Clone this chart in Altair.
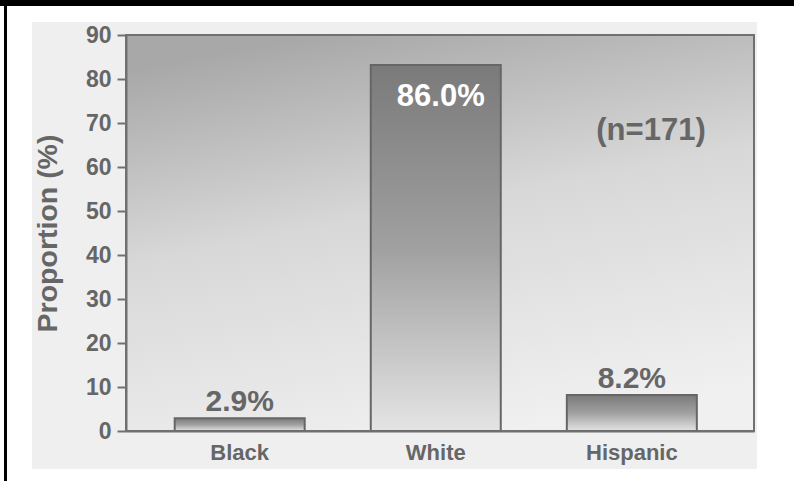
import altair as alt
import pandas as pd

categories = ["Black", "White", "Hispanic"]
bar_heights = [2.9, 83.2, 8.2]
bar_labels = ["2.9%", "86.0%", "8.2%"]
y_ticks = [0, 10, 20, 30, 40, 50, 60, 70, 80, 90]
annotation = "(n=171)"

df = pd.DataFrame({"group": categories, "value": bar_heights, "label": bar_labels})

FONT = "Liberation Sans"
GRAY = "#666666"
W, H = 628, 396

one = alt.Data(values=[{}])

top_band = alt.Chart(one).mark_rect(color="black").encode(
    x=alt.value(-126), x2=alt.value(668), y=alt.value(-35), y2=alt.value(-29))
left_line = alt.Chart(one).mark_rect(color="black").encode(
    x=alt.value(-122), x2=alt.value(-119), y=alt.value(-35), y2=alt.value(446))
panel = alt.Chart(one).mark_rect(color="#efefef").encode(
    x=alt.value(-94), x2=alt.value(631), y=alt.value(-13), y2=alt.value(434))

bg_grad = alt.LinearGradient(
    gradient="linear", x1=0.3, x2=0.6, y1=0, y2=1,
    stops=[alt.GradientStop(offset=0, color="#a8a8a8"),
           alt.GradientStop(offset=0.45, color="#d8d8d8"),
           alt.GradientStop(offset=1, color="#f0f0f0")])
plot_bg = alt.Chart(one).mark_rect(fill=bg_grad, stroke="#707070", strokeWidth=2).encode(
    x=alt.value(0), x2=alt.value(W), y=alt.value(0), y2=alt.value(H))

bar_grad = alt.LinearGradient(
    gradient="linear", x1=0, x2=0, y1=0, y2=1,
    stops=[alt.GradientStop(offset=0, color="#7a7a7a"),
           alt.GradientStop(offset=0.5, color="#a0a0a0"),
           alt.GradientStop(offset=1, color="#e4e4e4")])

x_scale = alt.Scale(paddingInner=0.337, paddingOuter=0.27, align=0.46)
x_axis = alt.Axis(title=None, labelAngle=0, ticks=False, tickSize=0,
                  labelPadding=11, domainColor="#707070", domainWidth=2, zindex=1,
                  labelFontSize=22)
y_scale = alt.Scale(domain=[0, 90], nice=False)
y_axis = alt.Axis(title="Proportion (%)", values=y_ticks, grid=False,
                  tickSize=9, tickWidth=2, tickColor="#707070", labelPadding=6,
                  domainColor="#707070", domainWidth=2,
                  titleX=-79, titleY=198, titleAngle=270, titleAlign="center",
                  titleBaseline="middle", zindex=1, labelFontSize=23)

x_enc = alt.X("group:N", sort=categories, scale=x_scale, axis=x_axis)
y_enc = alt.Y("value:Q", scale=y_scale, axis=y_axis)

bars = alt.Chart(df).mark_bar(fill=bar_grad, stroke="#666666", strokeWidth=2).encode(
    x=x_enc, y=y_enc)

outside = alt.Chart(df).transform_filter("datum.value < 50").mark_text(
    font=FONT, fontSize=30, fontWeight="bold", color=GRAY, baseline="alphabetic", dy=-7
).encode(x=x_enc, y=y_enc, text="label:N")

inside = alt.Chart(df).transform_filter("datum.value >= 50").mark_text(
    font=FONT, fontSize=31, fontWeight="bold", color="white", baseline="alphabetic",
    dy=41, dx=5
).encode(x=x_enc, y=y_enc, text="label:N")

note = alt.Chart(alt.Data(values=[{"t": annotation}])).mark_text(
    font=FONT, fontSize=31, fontWeight="bold", color=GRAY, baseline="alphabetic",
    align="center"
).encode(x=alt.value(525), y=alt.value(105), text="t:N")

chart = alt.layer(top_band, left_line, panel, plot_bg, bars, outside, inside, note).properties(
    width=W, height=H,
    autosize=alt.AutoSizeParams(type="none"),
    padding={"left": 126, "top": 35, "right": 40, "bottom": 50},
    background="white",
).configure_view(stroke=None).configure_axis(
    labelFont=FONT, labelFontWeight="bold", labelColor=GRAY,
    titleFont=FONT, titleFontSize=28.5, titleFontWeight="bold", titleColor=GRAY,
)

chart.save("out.html", embed_options={"renderer": "svg", "actions": False})
